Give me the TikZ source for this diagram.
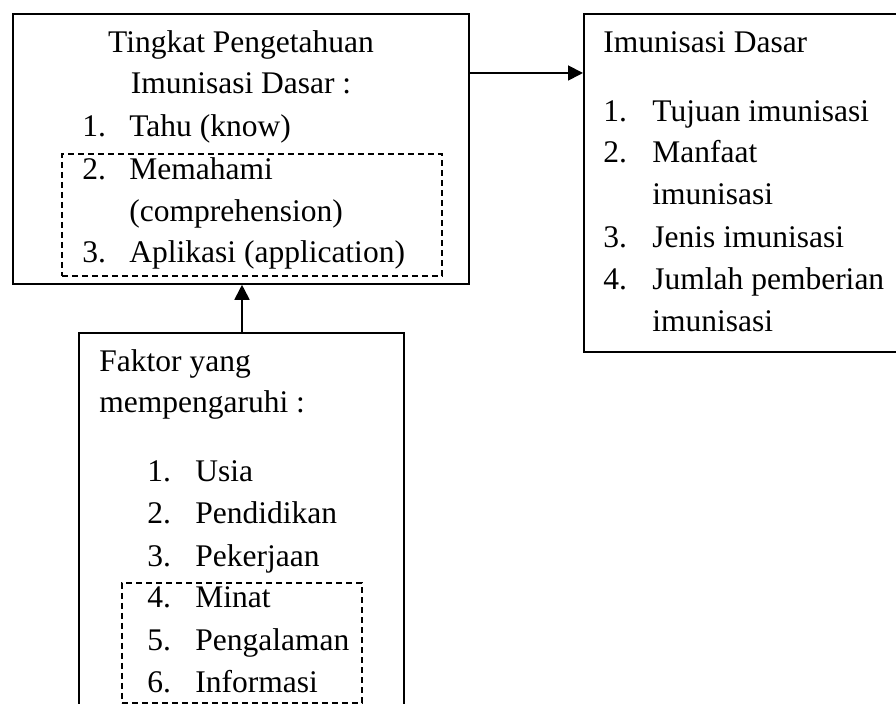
\documentclass[tikz,border=0pt]{standalone}
\usepackage{fontspec}
\setmainfont{Liberation Serif}
\usetikzlibrary{arrows.meta}
\begin{document}
\begin{tikzpicture}[x=0.5pt,y=-0.5pt,
  box/.style={draw, line width=0.9pt, inner sep=0, anchor=north west},
  dbox/.style={draw, dash pattern=on 3pt off 2pt, line width=0.8pt, inner sep=0, anchor=north west},
  txt/.style={anchor=base west, inner sep=0, font=\fontsize{15.75}{21}\selectfont},
  ctxt/.style={txt, anchor=base},
  arr/.style={line width=0.9pt, -{Triangle[length=7.5pt,width=7.5pt]}}]
\clip (0,0) rectangle (896,704);
% boxes
\node[box, minimum width=228pt, minimum height=135pt] (b1) at (12,13) {};
\node[box, minimum width=165pt, minimum height=169pt] (b2) at (583,13) {};
\node[box, minimum width=162.5pt, minimum height=200pt] (b3) at (78,332) {};
\node[dbox, minimum width=190pt, minimum height=61pt] (d1) at (61,153) {};
\node[dbox, minimum width=120pt, minimum height=60pt] (d2) at (121,582) {};
% connectors
\coordinate (h) at (0,73);
\draw[arr] (b1.east |- h) -- (b2.west |- h);
\coordinate (v) at (242,0);
\draw[arr] (b3.north -| v) -- (b1.south -| v);
% box 1 text
\node[ctxt] (a1) at (241,53) {Tingkat Pengetahuan};
\node[ctxt] (a2) at (241,94) {Imunisasi Dasar :};
\node[txt] (a3n) at (82,137) {1.};
\node[txt] (a3) at (129,137) {Tahu (know)};
\node[txt] (a4n) at (82,180) {2.};
\node[txt] (a4) at (129,180) {Memahami};
\node[txt] (a5) at (129,222) {(comprehension)};
\node[txt] (a6n) at (82,263) {3.};
\node[txt] (a6) at (129,263) {Aplikasi (application)};
% box 2 text
\node[txt] (c1) at (603,53) {Imunisasi Dasar};
\node[txt] (c2n) at (603,122) {1.};
\node[txt] (c2) at (652,122) {Tujuan imunisasi};
\node[txt] (c3n) at (603,163) {2.};
\node[txt] (c3) at (652,163) {Manfaat};
\node[txt] (c4) at (652,205) {imunisasi};
\node[txt] (c5n) at (603,248) {3.};
\node[txt] (c5) at (652,248) {Jenis imunisasi};
\node[txt] (c6n) at (603,290) {4.};
\node[txt] (c6) at (652,290) {Jumlah pemberian};
\node[txt] (c7) at (652,332) {imunisasi};
% box 3 text
\node[txt] (e1) at (99,372) {Faktor yang};
\node[txt] (e2) at (99,413) {mempengaruhi :};
\node[txt] (e3n) at (147,482) {1.};
\node[txt] (e3) at (195,482) {Usia};
\node[txt] (e4n) at (147,524) {2.};
\node[txt] (e4) at (195,524) {Pendidikan};
\node[txt] (e5n) at (147,567) {3.};
\node[txt] (e5) at (195,567) {Pekerjaan};
\node[txt] (e6n) at (147,608) {4.};
\node[txt] (e6) at (195,608) {Minat};
\node[txt] (e7n) at (147,651) {5.};
\node[txt] (e7) at (195,651) {Pengalaman};
\node[txt] (e8n) at (147,693) {6.};
\node[txt] (e8) at (195,693) {Informasi};
\end{tikzpicture}
\end{document}
